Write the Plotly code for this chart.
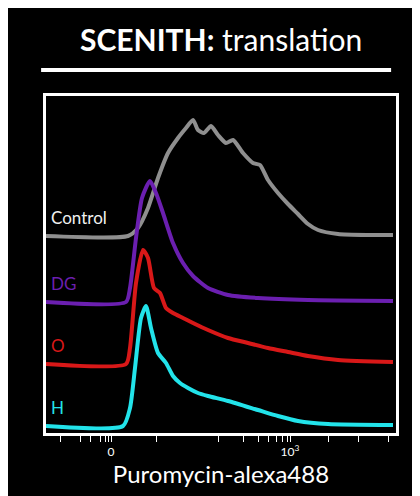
import plotly.graph_objects as go

# Histogram outlines, x in axis units (0-350), y heights above each baseline
labels = ["Control", "DG", "O", "H"]
colors = ["#8f8f8f", "#6b1fb0", "#d81818", "#22e3ea"]
label_colors = ["#f0f0f0", "#6b1fb0", "#d81818", "#22e3ea"]
baselines = [197, 131, 69, 7]

control_x = [0, 82, 92, 102, 112, 122, 132, 140, 147, 152, 158, 165, 172, 180, 187, 197, 207, 214, 222, 232, 242, 252, 262, 272, 292, 322, 347]
control_y = [0, 0, 8, 28, 58, 83, 98, 108, 116, 106, 103, 110, 101, 93, 96, 83, 73, 71, 56, 43, 32, 22, 12, 6, 2, 1, 1]
dg_x = [0, 80, 84, 90, 96, 104, 110, 117, 127, 137, 147, 162, 182, 212, 262, 347]
dg_y = [0, 0, 14, 64, 104, 121, 109, 89, 59, 39, 26, 14, 7, 4, 2, 1]
o_x = [0, 80, 84, 90, 97, 102, 108, 114, 120, 127, 137, 147, 162, 182, 202, 222, 242, 262, 292, 347]
o_y = [0, 0, 16, 81, 114, 106, 76, 71, 56, 51, 46, 41, 34, 26, 21, 16, 12, 8, 4, 2]
h_x = [0, 77, 84, 89, 95, 100, 105, 112, 120, 127, 134, 142, 152, 162, 182, 212, 232, 252, 282, 347]
h_y = [0, 0, 18, 58, 108, 120, 98, 73, 63, 50, 43, 38, 33, 30, 25, 16, 10, 5, 2, 1]
xs = [control_x, dg_x, o_x, h_x]
ys = [control_y, dg_y, o_y, h_y]

tick_vals = [14, 34, 44, 54, 59, 62, 65, 110, 172, 197, 212, 222, 230, 236, 241, 244, 282, 312, 342]
tick_text = ["" for _ in tick_vals]
tick_text[tick_vals.index(65)] = "0"
tick_text[tick_vals.index(244)] = "10<sup>3</sup>"

fig = go.Figure()
for name, col, lcol, base, x, y in zip(labels, colors, label_colors, baselines, xs, ys):
    fig.add_trace(go.Scatter(x=x, y=[v + base for v in y], mode="lines",
                             line=dict(color=col, width=4, shape="spline", smoothing=0.6),
                             showlegend=False))
    fig.add_annotation(x=3, y=base + 6, text=name, showarrow=False, xanchor="left",
                       yanchor="bottom", font=dict(color=lcol, size=17))

fig.update_layout(
    width=420, height=496, paper_bgcolor="black", plot_bgcolor="black",
    margin=dict(l=38, r=32, t=88, b=71),
    font=dict(family="Lato, Noto Sans, sans-serif", color="white"),
    xaxis=dict(range=[0, 350], showgrid=False, zeroline=False, tickmode="array",
               tickvals=tick_vals, ticktext=tick_text, ticks="outside", ticklen=6,
               tickcolor="white", tickfont=dict(size=12, color="white"),
               showline=True, linecolor="white", linewidth=3, mirror=True,
               title=dict(text="Puromycin-alexa488", font=dict(size=24), standoff=4)),
    yaxis=dict(range=[0, 337], showgrid=False, zeroline=False, showticklabels=False,
               showline=True, linecolor="white", linewidth=3, mirror=True),
)
fig.add_annotation(xref="paper", yref="paper", x=0.5, y=1.17, yanchor="middle",
                   text="<b>SCENITH:</b> translation", showarrow=False,
                   font=dict(size=30, color="white"))
fig.add_shape(type="line", xref="paper", yref="paper", x0=-0.014, x1=0.986,
              y0=1.077, y1=1.077, line=dict(color="white", width=4))

fig.write_html("out.html")
